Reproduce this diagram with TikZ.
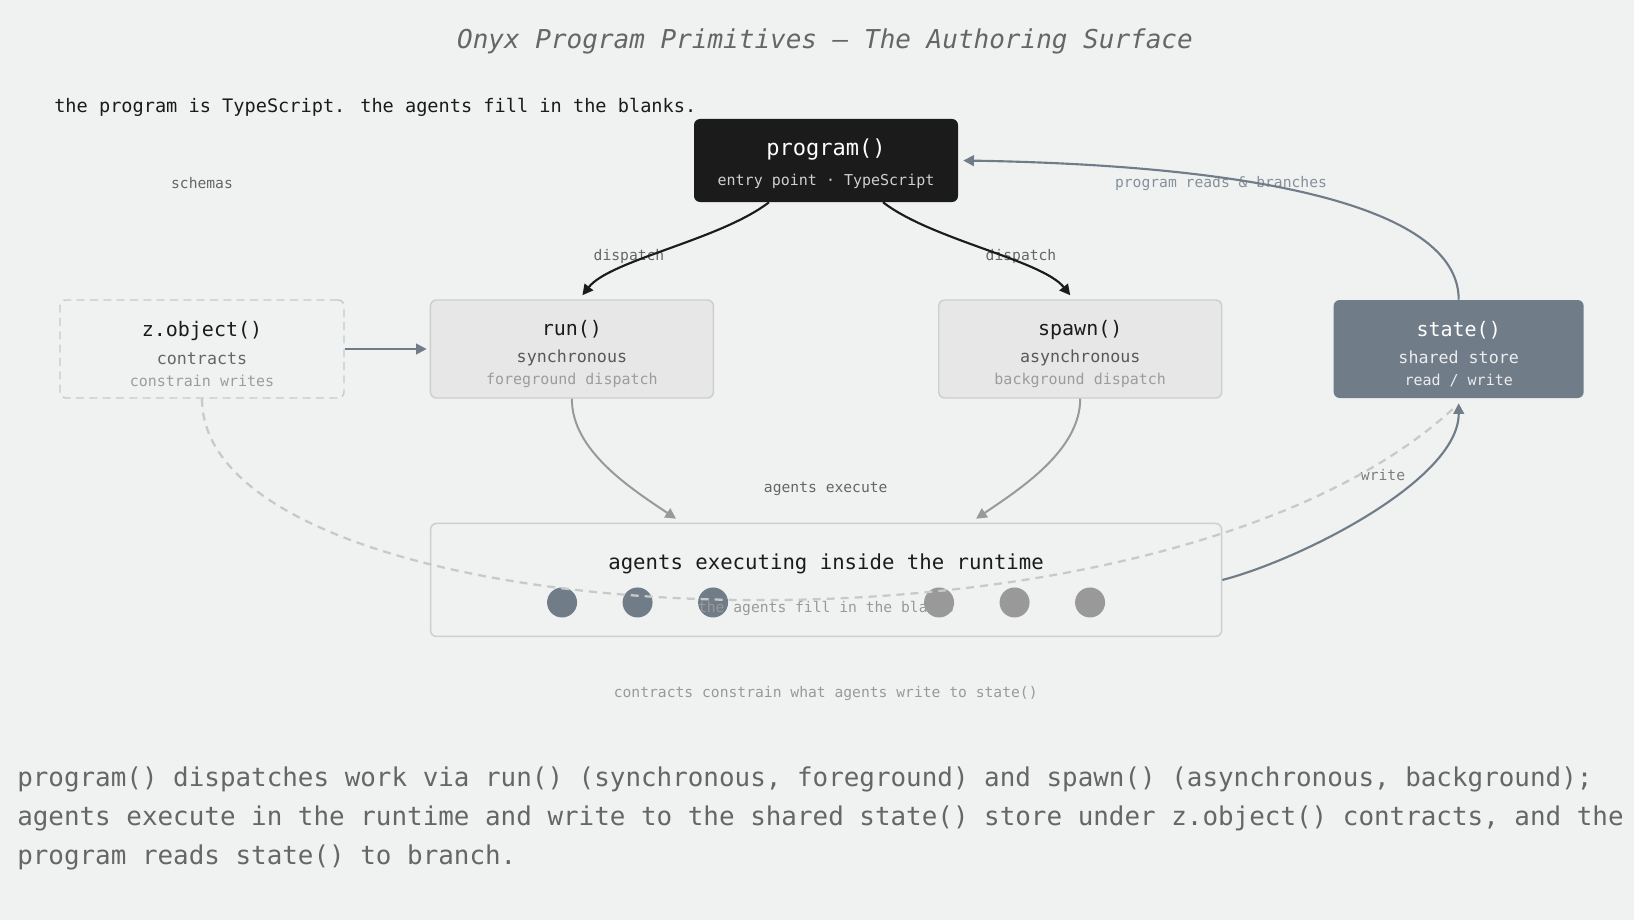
\documentclass[tikz,border=0pt]{standalone}
\usepackage{fontspec}
\setmainfont{DejaVu Sans Mono}
\usepackage{xcolor}
\definecolor{oxpage}{HTML}{F0F2F1}
\definecolor{oxink}{HTML}{1B1B1B}
\definecolor{oxslate}{HTML}{717C89}
\definecolor{oxpanel}{HTML}{E6E7E6}
\definecolor{oxline}{HTML}{CDCECD}
\definecolor{oxdash}{HTML}{C8C9C8}
\definecolor{oxgrey}{HTML}{999999}
\definecolor{oxtext}{HTML}{666666}
\definecolor{oxsoft}{HTML}{585858}
\definecolor{oxfaint}{HTML}{9C9C9C}
\definecolor{oxpale}{HTML}{CFCFCF}
\definecolor{oxmist}{HTML}{EBEDEF}
\usepackage{tikz}
\usetikzlibrary{arrows.meta,positioning,calc}
\newcommand{\oxtitlefont}{\fontsize{19.5pt}{24pt}\selectfont}
\newcommand{\oxleadfont}{\fontsize{16.5pt}{20pt}\selectfont}
\newcommand{\oxheadfont}{\fontsize{15pt}{18pt}\selectfont}
\newcommand{\oxsubfont}{\fontsize{12.5pt}{16.5pt}\selectfont}
\newcommand{\oxsmallfont}{\fontsize{11.25pt}{16.5pt}\selectfont}
\newcommand{\oxlift}[1]{\rule{0pt}{#1}}
\tikzset{
  oxbase/.style={rounded corners=4.5pt,inner sep=0pt,align=center,minimum height=73.5pt},
  oxcall/.style={oxbase,draw=oxline,line width=1.1pt,fill=oxpanel,minimum width=212.25pt,font=\oxsubfont},
  oxentry/.style={oxbase,fill=oxink,minimum width=198pt,minimum height=62.25pt,font=\oxsmallfont,text=oxpale},
  oxstore/.style={oxbase,fill=oxslate,minimum width=187.5pt,font=\oxsubfont,text=oxmist},
  oxschema/.style={oxbase,draw=oxdash,line width=1.1pt,dash pattern=on 6pt off 4pt,minimum width=213pt,font=\oxsubfont},
  oxruntime/.style={draw=oxline,line width=1.1pt,rounded corners=4.5pt,minimum width=593.25pt,minimum height=84.75pt},
  oxagent/.style={circle,inner sep=0pt,minimum size=22.5pt},
  oxlabel/.style={inner sep=0pt,font=\fontsize{11pt}{13pt}\selectfont,text=oxtext},
  oxflow/.style={-{Triangle[length=8pt,width=8pt]},line width=1.6pt},
  oxdashed/.style={draw=oxdash,line width=1.7pt,dash pattern=on 6pt off 4.5pt},
}

\begin{document}
\begin{tikzpicture}[x=0.75pt,y=-0.75pt]
\useasboundingbox[fill=oxpage] (0,0) rectangle (1634,920);
\node[inner sep=0pt,font=\oxtitlefont\itshape,text=oxtext](title) at (825,41){Onyx Program Primitives — The Authoring Surface};
\node[inner sep=0pt,anchor=west,font=\fontsize{13.95pt}{17pt}\selectfont,text=oxink](lede) at (54,107){the program is TypeScript. the agents fill in the blanks.};
\node[oxentry](p) at (826,160.5){{\oxleadfont\color{white}\oxlift{18pt}program()}\\[6pt]entry point · TypeScript};
\node[oxschema](z) at (202,349){{\oxheadfont\color{oxink}\oxlift{19pt}z.object()}\\[4pt]{\color{oxtext}contracts}\\{\oxsmallfont\color{oxfaint}constrain writes}};
\node[oxcall,right=63.7pt of z](r){{\oxheadfont\color{oxink}\oxlift{19pt}run()}\\[4pt]{\color{oxsoft}synchronous}\\{\oxsmallfont\color{oxfaint}foreground dispatch}};
\node[oxcall,right=167.9pt of r](s){{\oxheadfont\color{oxink}\oxlift{19pt}spawn()}\\[4pt]{\color{oxsoft}asynchronous}\\{\oxsmallfont\color{oxfaint}background dispatch}};
\node[oxstore,right=83.2pt of s](st){{\oxheadfont\color{white}\oxlift{19pt}state()}\\[4pt]shared store\\{\oxsmallfont read / write}};
\node[oxruntime,below=93pt of $(r.south)!0.5!(s.south)$](rt){};
\node[inner sep=0pt,font=\fontsize{15.5pt}{18pt}\selectfont,text=oxink](rtitle) at ($(rt.center)+(0,-16)$){agents executing inside the runtime};
\foreach \dx/\tone [count=\i] in {-264/oxslate,-188.5/oxslate,-113/oxslate,113/oxgrey,188.5/oxgrey,264/oxgrey}
  \node[oxagent,fill=\tone](ag\i) at ($(rt.center)+(\dx,22.5)$){};
\node[oxlabel,text=oxgrey](blanks) at ($(rt.center)+(0,28)$){the agents fill in the blanks};
% labels
\node[oxlabel](schemas) at (202,183){schemas};
\node[oxlabel](dl) at (629,256){dispatch};
\node[oxlabel](dr) at (1021,256){dispatch};
\node[oxlabel,text=oxslate!85](reads) at (1221,184){program reads \& branches};
\node[oxlabel](exec) at (825.75,489){agents execute};
\node[oxlabel,text=oxtext!85](wr) at (1383,475){write};
\node[oxlabel,text=oxgrey](note) at (825.75,693){contracts constrain what agents write to state()};
% connectors
\draw[oxdashed](z.south) .. controls (202,640) and (1150,690) .. ($(st.south)+(-4,9)$);
\draw[oxflow,color=oxink]($(p.south)+(-57,0)$) .. controls (720,240) and (610,260) .. ($(r.north)+(10.5,-4)$);
\draw[oxflow,color=oxink]($(p.south)+(57,0)$) .. controls (932,240) and (1042,260) .. ($(s.north)+(-10,-4)$);
\draw[oxflow,color=oxslate](z.east)--($(r.west)+(-3,0)$);
\draw[oxflow,color=oxgrey,line width=1.5pt](r.south) .. controls (571.5,450) and (630,488) .. ($(rt.north)+(-150,-4)$);
\draw[oxflow,color=oxgrey,line width=1.5pt](s.south) .. controls (1080,450) and (1021.5,488) .. ($(rt.north)+(150,-4)$);
\draw[oxflow,color=oxslate](st.north) .. controls (1459,215) and (1290,166) .. ($(p.east)+(5,0)$);
\draw[oxflow,color=oxslate](rt.east) .. controls (1300,560) and (1459,480) .. ($(st.south)+(0,5)$);
\node[inner sep=0pt,anchor=west,align=left,font=\fontsize{19.43pt}{29.25pt}\selectfont,text=oxtext](summary) at (17,818){program() dispatches work via run() (synchronous, foreground) and spawn() (asynchronous, background);\\agents execute in the runtime and write to the shared state() store under z.object() contracts, and the\\program reads state() to branch.};
\end{tikzpicture}
\end{document}
